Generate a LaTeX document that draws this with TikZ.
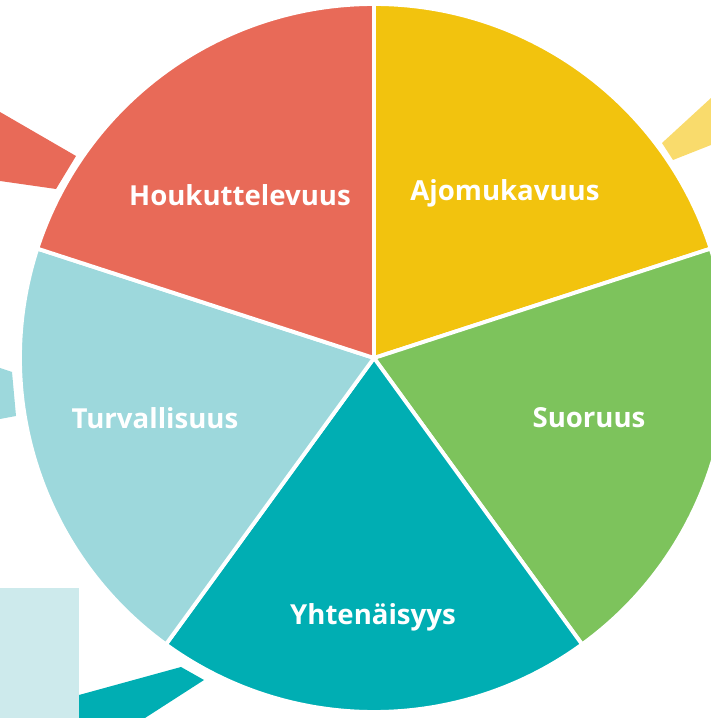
\documentclass[tikz,border=0pt]{standalone}
\usepackage{fontspec}
\setmainfont{Open Sans}
\usetikzlibrary{positioning}

\definecolor{redseg}{RGB}{232,106,88}
\definecolor{yellowseg}{RGB}{242,195,14}
\definecolor{lightyellow}{RGB}{249,219,108}
\definecolor{greenseg}{RGB}{125,195,92}
\definecolor{tealseg}{RGB}{0,174,179}
\definecolor{blueseg}{RGB}{157,216,220}
\definecolor{boxblue}{RGB}{205,234,236}

\begin{document}
\begin{tikzpicture}[x=0.02cm, y=0.02cm,
  seg/.style={draw=white, line width=2.2pt, line join=miter},
  lbl/.style={text=white, font=\fontsize{15.7}{18}\selectfont\bfseries, inner sep=0pt}]

\useasboundingbox (0,0) rectangle (711,718);
\clip (0,0) rectangle (711,718);

% =================================================================================
% pieces around the wheel
% =================================================================================
\fill[redseg]      (0,606) -- (76,562) -- (56,529) -- (0,537) -- cycle;
\fill[lightyellow] (662,575) -- (673,558) -- (711,573) -- (711,620) -- cycle;
\fill[blueseg]     (0,350) -- (12,346) -- (16,302) -- (0,299) -- cycle;
\fill[boxblue]     (0,0) rectangle (79,130);
\fill[tealseg]     (79,23) -- (181,51) -- (204,38) -- (145,0) -- (79,0) -- cycle;

% =================================================================================
% the wheel: five equal wedges
% =================================================================================
\coordinate (c) at (374,360);
\foreach \a/\b/\col in {90/18/yellowseg, 18/-54/greenseg, -54/-126/tealseg,
                        -126/-198/blueseg, -198/-270/redseg}
  \filldraw[seg, fill=\col] (c) -- ++(\a:354) arc[start angle=\a, end angle=\b, radius=354] -- cycle;

% =================================================================================
% labels
% =================================================================================
\node[lbl] (houk) at (240,523) {Houkuttelevuus};
\node[lbl] (ajo)  at (505,525) {Ajomukavuus};
\node[lbl] (suor) at (589,300) {Suoruus};
\node[lbl] (turv) at (155,300) {Turvallisuus};
\node[lbl] (yht)  at (373,101) {Yhtenäisyys};

\end{tikzpicture}
\end{document}
